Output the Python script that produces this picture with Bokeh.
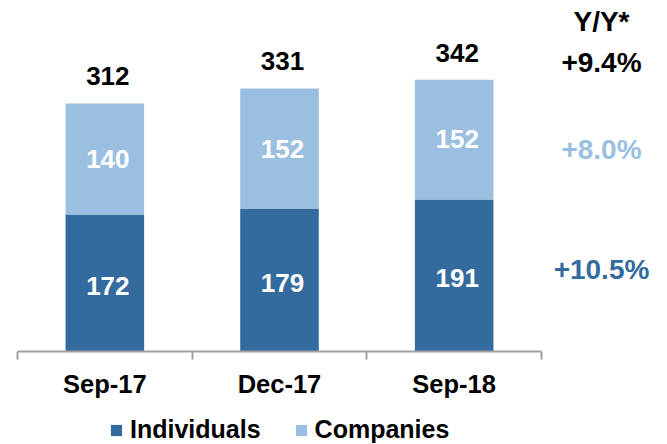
from bokeh.plotting import figure
from bokeh.models import ColumnDataSource, FixedTicker, Label, Legend, LegendItem, Range1d
from bokeh.core.properties import value
from bokeh.embed import file_html
from bokeh.resources import INLINE

categories = ["Sep-17", "Dec-17", "Sep-18"]
individuals = [172, 179, 191]
companies = [140, 152, 152]
totals = [312, 331, 342]
yoy_header = "Y/Y*"
yoy_total = "+9.4%"
yoy_companies = "+8.0%"
yoy_individuals = "+10.5%"

DARK = "#346B9F"
LIGHT = "#9BBFE0"
FONT = "Liberation Sans"

W, H = 667, 444
CAT_PX = 524 / 3.0          # pixels per category
AX_LEFT = 17                # pixel where the axis starts
AX_Y = 350.5                # pixel row of the axis line
Y_SCALE = 0.7933            # px per unit
FRAME_H = H                 # frame covers the whole canvas


def py(pix):
    """pixel row (from top) -> data y"""
    return (AX_Y - pix) / Y_SCALE


xs = [i + 0.5 for i in range(len(categories))]
ind_mid = [v / 2 for v in individuals]
comp_mid = [a + b / 2 for a, b in zip(individuals, companies)]

src = ColumnDataSource(dict(
    x=xs, cat=categories, ind=individuals, comp=companies, tot=totals,
    ind_mid=ind_mid, comp_mid=comp_mid,
    ind_lbl=[str(v) for v in individuals],
    comp_lbl=[str(v) for v in companies],
    tot_lbl=[str(v) for v in totals],
))

p = figure(width=W, height=H, output_backend="svg", toolbar_location=None,
           x_range=Range1d(-AX_LEFT / CAT_PX, (W - AX_LEFT) / CAT_PX),
           y_range=Range1d(py(FRAME_H), py(0)),
           min_border_left=0, min_border_right=0, min_border_top=0,
           min_border_bottom=0)
p.outline_line_color = None
p.xgrid.visible = False
p.ygrid.visible = False
p.yaxis.visible = False

r_ind = p.vbar(x="x", top="ind", bottom=0, width=0.45, source=src,
               fill_color=DARK, line_color=None)
r_comp = p.vbar(x="x", top="tot", bottom="ind", width=0.45, source=src,
                fill_color=LIGHT, line_color=None)

common = dict(text_font_size="26px", text_font_style="bold", text_align="center",
              x_offset=3, text_font=value(FONT), source=src)
p.text(x="x", y="ind_mid", text="ind_lbl", text_color="white", text_baseline="middle",
       y_offset=3, **common)
p.text(x="x", y="comp_mid", text="comp_lbl", text_color="white", text_baseline="middle",
       **common)
p.text(x="x", y="tot", text="tot_lbl", text_color="black", text_baseline="alphabetic",
       y_offset=-27, **common)

ax = p.xaxis[0]
ax.fixed_location = 0
ax.bounds = (0, 3)
ax.ticker = FixedTicker(ticks=xs, minor_ticks=[0, 1, 2, 3])
ax.major_label_overrides = {x: c for x, c in zip(xs, categories)}
ax.major_tick_out = 0
ax.major_tick_in = 0
ax.minor_tick_out = 8
ax.minor_tick_in = 0
ax.axis_line_color = "#A0A0A0"
ax.axis_line_width = 2
ax.minor_tick_line_color = "#A0A0A0"
ax.minor_tick_line_width = 2
ax.major_label_text_font = FONT
ax.major_label_text_font_style = "bold"
ax.major_label_text_font_size = "25.5px"
ax.major_label_text_color = "black"
ax.major_label_standoff = 11

rx = (601 - AX_LEFT) / CAT_PX
for txt, pix, col in [(yoy_header, 21, "black"), (yoy_total, 62, "black"),
                      (yoy_companies, 149, LIGHT), (yoy_individuals, 268.5, DARK)]:
    p.add_layout(Label(x=rx, y=py(pix), text=txt, text_color=col, text_font=FONT,
                       text_font_size="28px", text_font_style="bold",
                       text_align="center", text_baseline="middle"))

legend = Legend(items=[LegendItem(label="Individuals", renderers=[r_ind]),
                       LegendItem(label="Companies", renderers=[r_comp])],
                orientation="horizontal", location=(109, 0),
                glyph_width=14, glyph_height=14, label_standoff=7, spacing=33,
                padding=0, margin=0, border_line_color=None, background_fill_alpha=0,
                label_text_font=FONT, label_text_font_size="25px",
                label_text_font_style="bold", label_text_color="black")
p.add_layout(legend, "center")

open("out.html", "w").write(file_html(p, INLINE))
